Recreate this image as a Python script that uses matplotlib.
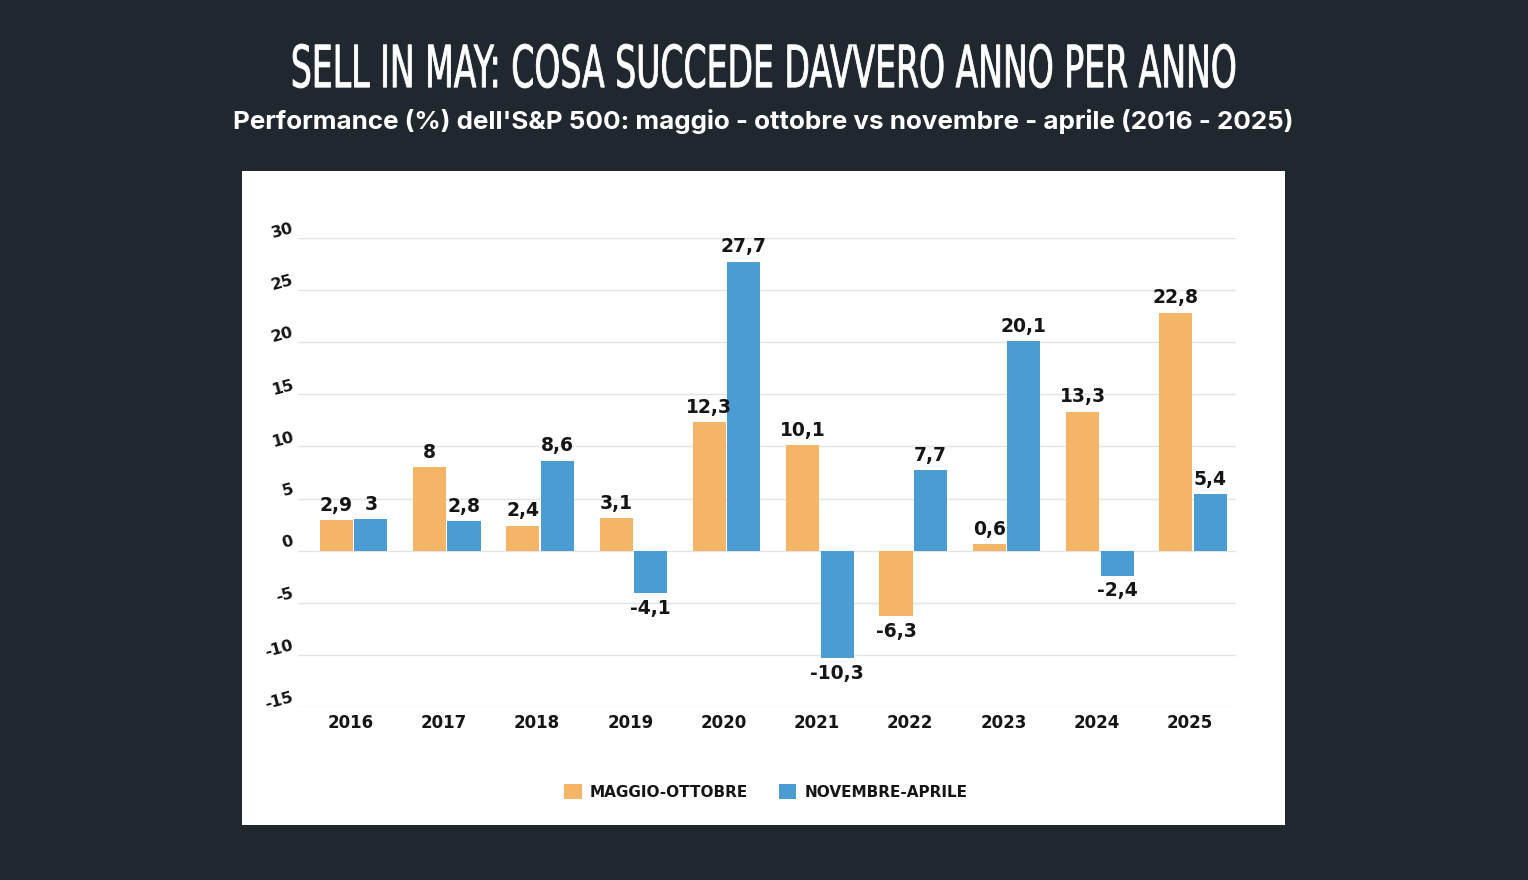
import matplotlib
matplotlib.use("Agg")
import matplotlib.pyplot as plt
import matplotlib.transforms as mtransforms
from matplotlib.patches import Rectangle, Patch, PathPatch
from matplotlib.textpath import TextPath
from matplotlib.font_manager import FontProperties
import numpy as np

years = ["2016", "2017", "2018", "2019", "2020", "2021", "2022", "2023", "2024", "2025"]
maggio_ottobre = [2.9, 8.0, 2.4, 3.1, 12.3, 10.1, -6.3, 0.6, 13.3, 22.8]
novembre_aprile = [3.0, 2.8, 8.6, -4.1, 27.7, -10.3, 7.7, 20.1, -2.4, 5.4]
yticks = [-15, -10, -5, 0, 5, 10, 15, 20, 25, 30]
series_names = ["MAGGIO-OTTOBRE", "NOVEMBRE-APRILE"]

title = "SELL IN MAY: COSA SUCCEDE DAVVERO ANNO PER ANNO"
subtitle = "Performance (%) dell'S&P 500: maggio - ottobre vs novembre - aprile (2016 - 2025)"

BG = "#21272e"
ORANGE = "#F4B567"
BLUE = "#4C9CD4"
TXT = "#151515"
LABEL_FONT = ["DejaVu Sans"]

W, H = 1528, 880
fig = plt.figure(figsize=(W / 100, H / 100), dpi=100, facecolor=BG)

# white panel
fig.patches.append(Rectangle((242 / W, 1 - 825 / H), (1285 - 242) / W, (825 - 171) / H,
                             transform=fig.transFigure, facecolor="white", edgecolor="none", zorder=-10))

ax = fig.add_axes([298 / W, 1 - 707 / H, (1236 - 298) / W, (707 - 238) / H])
ax.set_facecolor("none")
ax.set_zorder(2)

x = np.arange(len(years))
bw = 0.355
off = 0.185
b1 = ax.bar(x - off, maggio_ottobre, bw, color=ORANGE, zorder=3, edgecolor="none")
b2 = ax.bar(x + off, novembre_aprile, bw, color=BLUE, zorder=3, edgecolor="none")

def fmt(v):
    s = f"{v:.1f}".replace(".", ",")
    if s.endswith(",0"):
        s = s[:-2]
    return s

for bars, vals in ((b1, maggio_ottobre), (b2, novembre_aprile)):
    for rect, v in zip(bars, vals):
        cx = rect.get_x() + rect.get_width() / 2
        if v >= 0:
            ax.annotate(fmt(v), (cx, v), xytext=(0, 4), textcoords="offset points",
                        ha="center", va="bottom", fontsize=13.5, fontweight="bold",
                        color=TXT, family=LABEL_FONT, clip_on=False, zorder=4)
        else:
            ax.annotate(fmt(v), (cx, v), xytext=(0, -4), textcoords="offset points",
                        ha="center", va="top", fontsize=13.5, fontweight="bold",
                        color=TXT, family=LABEL_FONT, clip_on=False, zorder=4)

ax.set_xlim(-0.595, 9.46)
ax.set_ylim(-15, 30)
ax.set_yticks(yticks)
ax.set_yticklabels([str(t) for t in yticks], rotation=15, fontsize=11.5, fontweight="bold",
                   color=TXT, family=LABEL_FONT)
ax.set_xticks(x)
ax.set_xticklabels(years, fontsize=12, fontweight="bold", color=TXT, family=LABEL_FONT)
ax.tick_params(axis="both", length=0)
ax.tick_params(axis="x", pad=5)
ax.tick_params(axis="y", pad=2)
yoff = mtransforms.ScaledTranslation(0, 8 / 72, fig.dpi_scale_trans)
for lab in ax.get_yticklabels():
    lab.set_transform(lab.get_transform() + yoff)
xoff = mtransforms.ScaledTranslation(-3 / 100, 0, fig.dpi_scale_trans)
for lab in ax.get_xticklabels():
    lab.set_transform(lab.get_transform() + xoff)

ax.grid(axis="y", color="#e4e4e4", linewidth=1.0, zorder=0)
for s in ax.spines.values():
    s.set_visible(False)

handles = [Patch(facecolor=ORANGE, edgecolor="none"), Patch(facecolor=BLUE, edgecolor="none")]
fig.legend(handles, series_names, loc="center", bbox_to_anchor=(766 / W, 1 - 792 / H), ncol=2,
           frameon=False, prop={"family": LABEL_FONT, "weight": "bold", "size": 11},
           handlelength=1.15, handleheight=1.15, columnspacing=2.0, handletextpad=0.55,
           labelcolor=TXT)

# condensed title drawn as a horizontally-compressed text path (pixel coordinates)
tp = TextPath((0, 0), title, size=62, prop=FontProperties(family="DejaVu Sans"))
ext = tp.get_extents()
target_w = 1235 - 293
target_h = 88 - 44
sx = target_w / ext.width
sy = target_h / ext.height
tr = (mtransforms.Affine2D().translate(-ext.x0, -ext.y0).scale(sx, sy)
      .translate(293, H - 88))
fig.patches.append(PathPatch(tp, transform=tr, facecolor="white", edgecolor="white",
                             linewidth=0.6, zorder=5))

fig.text(763 / W, 1 - 122 / H, subtitle, ha="center", va="center", color="white",
         fontsize=18.7, fontweight="bold", family=["Inter", "DejaVu Sans"])

fig.savefig("out.png", dpi=100, facecolor=BG)
